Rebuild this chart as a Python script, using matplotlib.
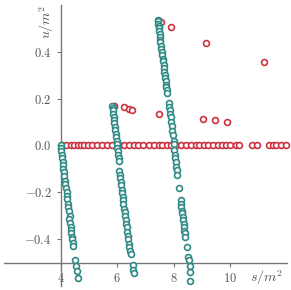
import matplotlib
matplotlib.use("Agg")
import matplotlib.pyplot as plt

plt.rcParams['font.family'] = 'serif'
plt.rcParams['font.serif'] = ['cmr10', 'DejaVu Serif']
plt.rcParams['mathtext.fontset'] = 'cm'
plt.rcParams['axes.unicode_minus'] = True

# red points: on the axis line and a few above it
red_x = [4.05, 4.2, 4.37, 4.48, 4.6, 4.72, 4.84, 4.95, 5.11, 5.29, 5.46, 5.64, 5.82,
         6.05, 6.23, 6.41, 6.58, 6.73, 6.92, 7.12, 7.3, 7.46, 7.6, 7.75, 7.9, 8.07,
         8.25, 8.42, 8.6, 8.78, 8.9, 9.08, 9.22, 9.38, 9.55, 9.7, 9.86, 10.0, 10.2,
         10.32, 10.75, 10.95, 11.35, 11.5, 11.62, 11.8, 11.98,
         5.87, 5.90, 6.25, 6.40, 6.54, 7.47, 7.54, 7.89, 9.15, 11.19, 7.46, 9.02, 9.45, 9.89]
red_y = [0.0] * 47 + [0.170, 0.167, 0.162, 0.157, 0.153, 0.533, 0.528, 0.505, 0.437,
                      0.356, 0.136, 0.114, 0.108, 0.102]

# teal points: three slanted bands
teal1_x = [4.0, 4.01, 4.03, 4.04, 4.05, 4.07, 4.08, 4.10, 4.11, 4.13, 4.15, 4.16, 4.18,
           4.22, 4.24, 4.23, 4.27, 4.26, 4.28, 4.32, 4.31, 4.33, 4.35, 4.37, 4.38, 4.39,
           4.41, 4.42, 4.44, 4.51, 4.55, 4.57, 4.60]
teal1_y = [0.0, -0.01, -0.025, -0.04, -0.055, -0.07, -0.085, -0.10, -0.115, -0.13, -0.15,
           -0.165, -0.18, -0.20, -0.215, -0.23, -0.25, -0.265, -0.28, -0.30, -0.315, -0.33,
           -0.35, -0.36, -0.375, -0.39, -0.40, -0.415, -0.43, -0.49, -0.515, -0.535, -0.565]

teal2_x = [5.83, 5.84, 5.85, 5.86, 5.88, 5.89, 5.90, 5.92, 5.93, 5.95, 5.96, 5.98, 5.99,
           6.01, 6.02, 6.03, 6.05, 6.06, 6.08, 6.10, 6.11, 6.13, 6.14, 6.16, 6.18, 6.19,
           6.21, 6.22, 6.25, 6.26, 6.28, 6.30, 6.32, 6.33, 6.36, 6.37, 6.39, 6.41, 6.43,
           6.45, 6.47, 6.55, 6.57, 6.58]
teal2_y = [0.17, 0.16, 0.15, 0.135, 0.12, 0.11, 0.095, 0.08, 0.065, 0.05, 0.035, 0.02, 0.005,
           -0.01, -0.025, -0.04, -0.055, -0.065, -0.11, -0.125, -0.14, -0.155, -0.17, -0.19,
           -0.205, -0.22, -0.235, -0.25, -0.27, -0.285, -0.30, -0.32, -0.335, -0.35, -0.37,
           -0.385, -0.40, -0.42, -0.435, -0.45, -0.465, -0.51, -0.53, -0.545]

teal3_x = [7.43, 7.44, 7.45, 7.46, 7.47, 7.48, 7.50, 7.51, 7.52, 7.53, 7.55, 7.56, 7.58,
           7.59, 7.61, 7.62, 7.64, 7.65, 7.67, 7.69, 7.70, 7.71, 7.73, 7.74, 7.76, 7.77,
           7.82, 7.84, 7.85, 7.87, 7.89, 7.91, 7.92, 7.95, 7.97, 7.99, 8.0, 8.02, 8.04,
           8.06, 8.07, 8.09, 8.11, 8.13, 8.19, 8.24, 8.26, 8.27, 8.29, 8.30, 8.31, 8.33,
           8.35, 8.36, 8.37, 8.38, 8.39, 8.47, 8.51, 8.53, 8.56, 8.57, 8.59]
teal3_y = [0.535, 0.53, 0.52, 0.51, 0.50, 0.49, 0.475, 0.465, 0.45, 0.44, 0.425, 0.41, 0.40,
           0.385, 0.37, 0.36, 0.345, 0.33, 0.315, 0.30, 0.29, 0.275, 0.26, 0.25, 0.235, 0.225,
           0.18, 0.165, 0.15, 0.135, 0.12, 0.10, 0.085, 0.06, 0.045, 0.02, 0.005, -0.02, -0.04,
           -0.055, -0.07, -0.09, -0.105, -0.125, -0.18, -0.235, -0.25, -0.265, -0.28, -0.29,
           -0.305, -0.32, -0.335, -0.35, -0.365, -0.375, -0.39, -0.435, -0.475, -0.49, -0.515,
           -0.54, -0.58]

xticks = [4, 6, 8, 10]
yticks = [-0.4, -0.2, 0.0, 0.2, 0.4]

red = '#cc3340'
teal = '#2f8a86'
gray = '#555555'

fig = plt.figure(figsize=(2.91, 2.90), dpi=100)
ax = fig.add_axes([0.014, 0.014, 0.972, 0.969])

ax.scatter(red_x, red_y, s=18, facecolors='white', edgecolors=red, linewidths=1.2,
           clip_on=False, zorder=3)
for tx, ty in [(teal1_x, teal1_y), (teal2_x, teal2_y), (teal3_x, teal3_y)]:
    ax.scatter(tx, ty, s=18, facecolors='white', edgecolors=teal, linewidths=1.2,
               clip_on=False, zorder=4)

ax.set_xlim(2, 12)
ax.set_ylim(-0.6, 0.6)

ax.spines['left'].set_position(('data', 4))
ax.spines['bottom'].set_position(('data', -0.5))
ax.spines['top'].set_visible(False)
ax.spines['right'].set_visible(False)
for s in ['left', 'bottom']:
    ax.spines[s].set_color('#777777')
    ax.spines[s].set_linewidth(1.0)

ax.set_xticks(xticks, labels=[f'${v}$' for v in xticks])
ax.set_yticks(yticks, labels=[f'${v:.1f}$' for v in yticks])
ax.tick_params(colors='#777777', labelcolor=gray, labelsize=9, length=3, width=0.8)

ax.text(3.52, 0.6, r'$u/m^2$', rotation=90, ha='center', va='top', fontsize=10, color=gray)
ax.text(11.85, -0.525, r'$s/m^2$', ha='right', va='top', fontsize=10, color=gray)

fig.savefig('out.png', dpi=100)
